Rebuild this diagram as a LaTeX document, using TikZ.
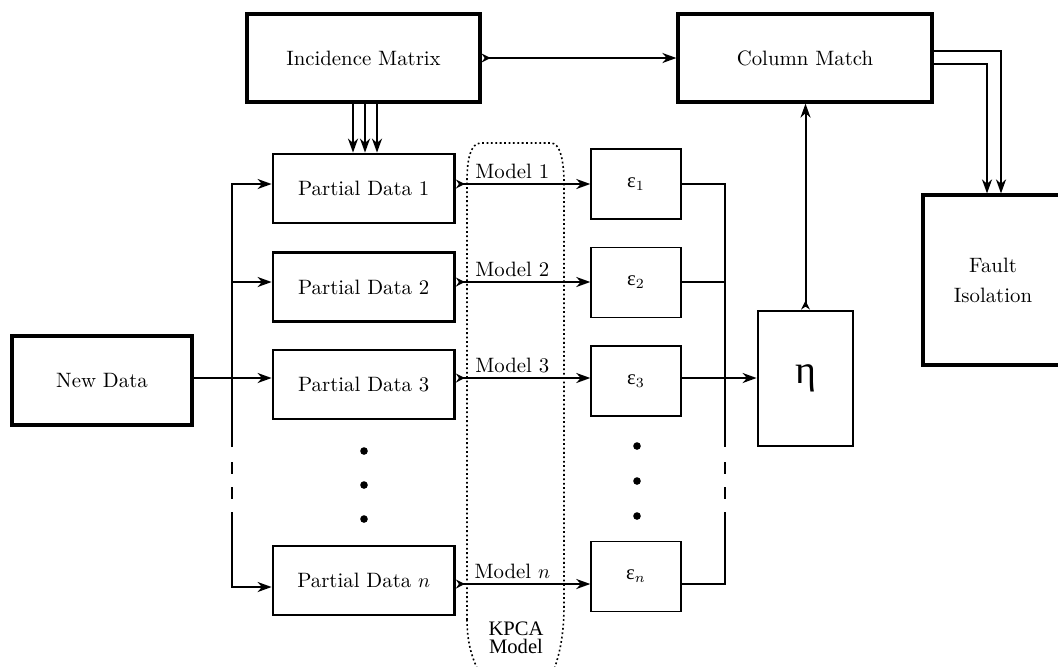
\documentclass[tikz,border=0pt]{standalone}
\usepackage{fontspec}
\newfontfamily\grk{Liberation Serif}
\usetikzlibrary{arrows.meta}
\begin{document}
\begin{tikzpicture}[x=0.5pt,y=-0.5pt, line join=miter,
  every node/.style={font=\fontsize{10.4}{12.5}\selectfont},
  thickbox/.style={draw, line width=1.6pt, inner sep=0pt, align=center},
  pdbox/.style={draw, line width=1.4pt, minimum width=90.75pt, minimum height=34.5pt, inner sep=0pt},
  epsbox/.style={draw, line width=0.95pt, minimum width=44.75pt, minimum height=35pt, inner sep=0pt},
  conn/.style={line width=1pt},
  arr/.style={conn, -{Stealth[length=7pt,width=5pt,inset=2.2pt]}},
  tarr/.style={conn, {Stealth[reversed,length=4.5pt,width=4.5pt,inset=1.5pt]}-{Stealth[length=7pt,width=5pt,inset=2.2pt]}},
  dotmark/.style={circle, fill, inner sep=0pt, minimum size=3.8pt},
  lbl/.style={inner sep=2pt}
  ]
\useasboundingbox (0,0) rectangle (1058,666);

% KPCA region
\begin{scope}
\clip (0,0) rectangle (1058,666);
\draw[line width=0.8pt, dash pattern=on 0.9pt off 1.3pt]
  (467,620) -- (467,181) .. controls (467,158) and (471,143) .. (481,143)
  -- (551,143) .. controls (560,143) and (564,160) .. (564,184)
  -- (564,605) .. controls (564,640) and (558,665) .. (545,690)
  -- (490,690) .. controls (476,670) and (467,650) .. (467,620);
\end{scope}
\node[font=\grk\fontsize{10.3}{8.8}\selectfont, align=center] (kpca) at (516,638) {KPCA\\Model};

% boxes
\node[thickbox, minimum width=116.5pt, minimum height=44pt] (im) at (363.5,58) {Incidence Matrix};
\node[thickbox, minimum width=127pt, minimum height=44pt] (cm) at (805,58) {Column Match};
\node[thickbox, minimum width=70pt, minimum height=85pt] (fi) at (993,280) {Fault\\[2.5pt]Isolation};
\node[thickbox, minimum width=90pt, minimum height=44.5pt] (nd) at (102,380.5) {New Data};

\node[pdbox] (pd1) at (363.75,188.5) {Partial Data 1};
\node[pdbox] (pd2) at (363.75,287) {Partial Data 2};
\node[pdbox] (pd3) at (363.75,384.5) {Partial Data 3};
\node[pdbox] (pdn) at (363.75,580.5) {Partial Data $n$};

\node[epsbox] (e1) at (636,184) {{\grk ε}$_1$};
\node[epsbox] (e2) at (636,282.5) {{\grk ε}$_2$};
\node[epsbox] (e3) at (636,381) {{\grk ε}$_3$};
\node[epsbox] (en) at (636,576.5) {{\grk ε}$_n$};

\node[draw, line width=1.4pt, minimum width=47.5pt, minimum height=67.5pt, inner sep=0pt] (eta) at (805.5,378.5) {\grk\fontsize{20}{24}\selectfont η};

% dots
\node[dotmark] (dl1) at (364,451) {};
\node[dotmark] (dl2) at (364,485) {};
\node[dotmark] (dl3) at (364,519) {};
\node[dotmark] (dr1) at (637,446) {};
\node[dotmark] (dr2) at (637,481) {};
\node[dotmark] (dr3) at (637,516) {};

% helper coordinates
\coordinate (r1) at (0,184);
\coordinate (r2) at (0,282);
\coordinate (r3) at (0,378);
\coordinate (rn) at (0,584);
\coordinate (rnin) at (0,587);
\coordinate (g1) at (0,447);
\coordinate (g2) at (0,462);
\coordinate (g3) at (0,474);
\coordinate (g4) at (0,487);
\coordinate (g5) at (0,499);
\coordinate (g6) at (0,512);
\coordinate (lb) at (232,0);
\coordinate (rb) at (725,0);
\coordinate (ia1) at (353,0);
\coordinate (ia2) at (365,0);
\coordinate (ia3) at (377,0);
\coordinate (cf1) at (1001,51);
\coordinate (cf2) at (987,64);

% top connectors
\draw[tarr] (im.east) -- (cm.west);
\foreach \i in {1,2,3} \draw[arr] (im.south -| ia\i) -- (pd1.north -| ia\i);
\draw[arr] (cm.east |- cf1) -- (cf1) -- (fi.north -| cf1);
\draw[arr] (cm.east |- cf2) -- (cf2) -- (fi.north -| cf2);
\draw[tarr] (eta.north) -- (eta.north |- cm.south);

% left bus
\draw[arr] (lb |- g1) -- (lb |- r1) -- (pd1.west |- r1);
\draw[arr] (lb |- r2) -- (pd2.west |- r2);
\draw[conn] (lb |- g2) -- (lb |- g3);
\draw[conn] (lb |- g4) -- (lb |- g5);
\draw[arr] (lb |- g6) -- (lb |- rnin) -- (pdn.west |- rnin);
\draw[arr] (nd.east |- r3) -- (pd3.west |- r3);

% models
\draw[tarr] (pd1.east |- r1) -- node[lbl, pos=0.42, above] (m1) {Model 1} (e1.west |- r1);
\draw[tarr] (pd2.east |- r2) -- node[lbl, pos=0.42, above] (m2) {Model 2} (e2.west |- r2);
\draw[tarr] (pd3.east |- r3) -- node[lbl, pos=0.42, above] (m3) {Model 3} (e3.west |- r3);
\draw[tarr] (pdn.east |- rn) -- node[lbl, pos=0.42, above] (mn) {Model $n$} (en.west |- rn);

% right bus
\draw[conn] (e1.east |- r1) -- (rb |- r1) -- (rb |- g1);
\draw[conn] (e2.east |- r2) -- (rb |- r2);
\draw[conn] (rb |- g2) -- (rb |- g3);
\draw[conn] (rb |- g4) -- (rb |- g5);
\draw[conn] (rb |- g6) -- (rb |- rn) -- (en.east |- rn);
\draw[arr] (e3.east |- r3) -- (eta.west |- r3);
\end{tikzpicture}
\end{document}
